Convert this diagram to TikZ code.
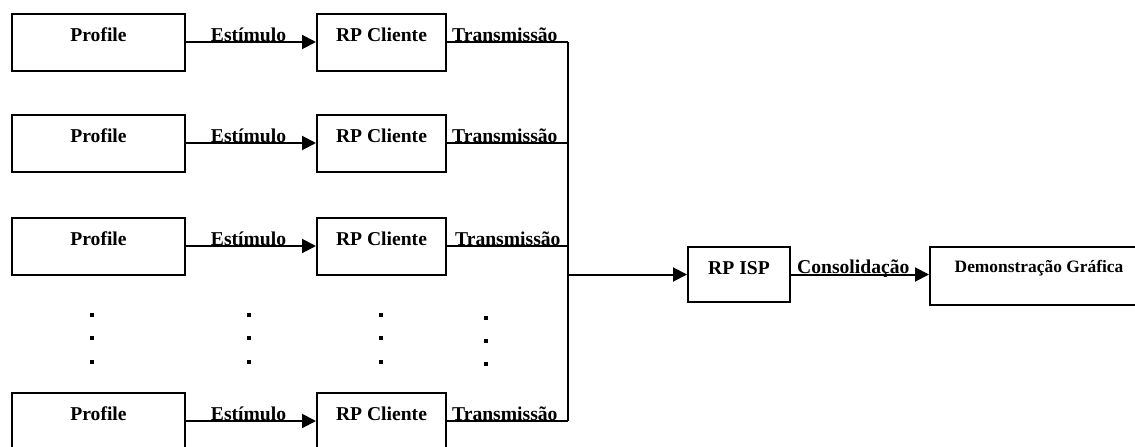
\documentclass[tikz,border=0pt]{standalone}
\usepackage{fontspec}
\setmainfont{Liberation Serif}
\usetikzlibrary{arrows.meta}
\begin{document}
\begin{tikzpicture}[x=1pt,y=-1pt,
  lw/.style={line width=2pt},
  boxtxt/.style={font=\fontsize{19.6}{20}\selectfont\bfseries},
  pbox/.style={draw,lw,boxtxt,inner sep=0pt,minimum width=173pt,text height=28pt,text depth=29pt},
  cbox/.style={draw,lw,boxtxt,inner sep=0pt,minimum width=129pt,text height=28pt,text depth=29pt},
  ibox/.style={draw,lw,boxtxt,inner sep=0pt,minimum width=102pt,text height=27pt,text depth=28pt},
  dbox/.style={draw,lw,font=\fontsize{17.4}{18}\selectfont\bfseries,inner sep=0pt,minimum width=218pt,text height=25pt,text depth=33pt},
  lbl/.style={boxtxt,inner sep=0pt,anchor=base},
  lblw/.style={boxtxt,inner sep=0pt,anchor=base west},
  arr/.style={lw,-{Triangle[length=14pt,width=14pt]}},
  dotsq/.style={fill=black}
]
\clip (0,0) rectangle (1135,447);
\fill[white] (0,0) rectangle (1135,447);
% rows
\foreach \r/\y/\tx in {1/42/452, 2/143/452, 3/246/455, 4/421/452}{
  \node[pbox] (p\r) at (98.5,\y) {Profile};
  \node[cbox] (c\r) at (381.5,\y) {RP Cliente};
  \draw[arr] (p\r) -- (c\r);
  \node[lbl] (e\r) at (248.5,\y-1) {Estímulo};
  \node[lblw] (t\r) at (\tx,\y-1) {Transmissão};
  \coordinate (b\r) at (568,\y);
  \draw[lw] (c\r.east) -- (b\r);
}
\draw[lw] (b1) -- (b4);
\node[ibox] (isp) at (739,274.5) {RP ISP};
\node[dbox] (demo) at (1039,276) {Demonstração Gráfica};
\coordinate (bm) at (568,274.5);
\draw[arr] (bm) -- (isp.west);
\draw[arr] (isp.east) -- (isp.east -| demo.west);
\node[lblw] (cons) at (797,273.5) {Consolidação};
% dots
\foreach \x in {92,249,381}{
  \foreach \yy in {315,338,362}{
    \fill[dotsq] (\x-1.6,\yy-1.6) rectangle (\x+1.6,\yy+1.6);
  }
}
\foreach \yy in {318,341,364}{
  \fill[dotsq] (486-1.6,\yy-1.6) rectangle (486+1.6,\yy+1.6);
}
\end{tikzpicture}
\end{document}
